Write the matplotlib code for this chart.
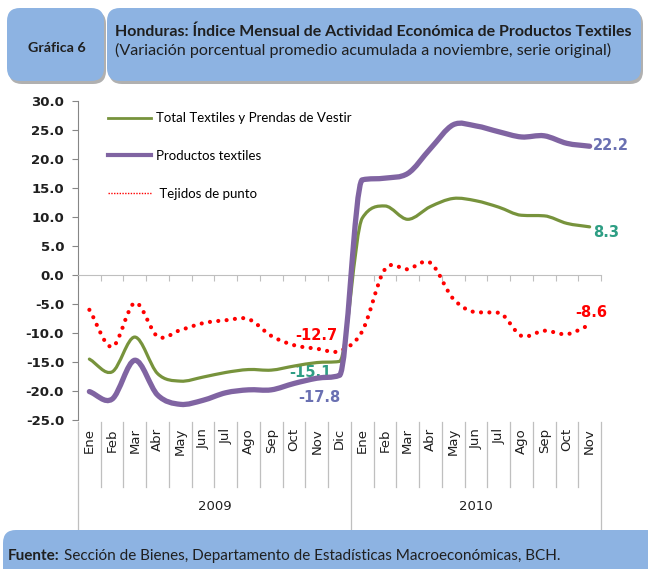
import numpy as np
import matplotlib
matplotlib.use("Agg")
import matplotlib.pyplot as plt
from matplotlib.path import Path
from matplotlib.patches import PathPatch, FancyBboxPatch
from matplotlib.lines import Line2D
import matplotlib.transforms as mtransforms

# data (Ene 2009 .. Nov 2010)
months = ["Ene", "Feb", "Mar", "Abr", "May", "Jun", "Jul", "Ago", "Sep", "Oct", "Nov", "Dic",
          "Ene", "Feb", "Mar", "Abr", "May", "Jun", "Jul", "Ago", "Sep", "Oct", "Nov"]
years = ["2009", "2010"]
total = [-14.5, -16.7, -10.7, -17.0, -18.3, -17.6, -16.8, -16.3, -16.4, -15.7, -15.1, -14.9,
         9.8, 11.9, 9.6, 11.8, 13.2, 12.8, 11.7, 10.3, 10.2, 8.9, 8.3]
productos = [-20.1, -21.4, -14.7, -20.7, -22.3, -21.6, -20.3, -19.8, -19.8, -18.7, -17.8, -17.3,
             16.4, 16.7, 17.5, 21.8, 25.9, 25.7, 24.7, 23.8, 24.0, 22.7, 22.2]
tejidos = [-6.0, -12.4, -4.8, -10.6, -9.5, -8.3, -7.8, -7.6, -10.5, -12.1, -12.7, -13.1,
           -9.7, 1.0, 1.0, 2.1, -4.1, -6.4, -6.5, -10.5, -9.6, -10.2, -8.6]

GREEN = "#77933C"
PURPLE = "#8064A2"
RED = "#FF0000"
TEAL = "#2E9E84"
BLUEL = "#6A70B2"
BOX = "#8DB3E2"
GRID = "#868686"
TXT = "#1F1F1F"


def smooth_path(xs, ys):
    # excel-like smoothed line; tangents are limited where the line keeps
    # going the same way so the big Dic->Ene jump does not overshoot
    xs = np.asarray(xs, float)
    ys = np.asarray(ys, float)
    n = len(xs)
    d = np.diff(ys) / np.diff(xs)
    m = np.zeros(n)
    m[0], m[-1] = d[0], d[-1]
    for i in range(1, n - 1):
        cr = (ys[i + 1] - ys[i - 1]) / (xs[i + 1] - xs[i - 1])
        if d[i - 1] * d[i] > 0:
            lim = 3 * min(abs(d[i - 1]), abs(d[i]))
            cr = np.sign(cr) * min(abs(cr), lim)
        m[i] = cr
    verts = [(xs[0], ys[0])]
    codes = [Path.MOVETO]
    for i in range(n - 1):
        h = xs[i + 1] - xs[i]
        verts += [(xs[i] + h / 3, ys[i] + m[i] * h / 3),
                  (xs[i + 1] - h / 3, ys[i + 1] - m[i + 1] * h / 3),
                  (xs[i + 1], ys[i + 1])]
        codes += [Path.CURVE4] * 3
    return Path(verts, codes)


W, H = 648, 569
fig = plt.figure(figsize=(W / 100, H / 100), dpi=100)
fig.patch.set_facecolor("white")


def px_box(x0, y0, x1, y1, shadow=True):
    fx0, fx1 = x0 / W, x1 / W
    fy0, fy1 = 1 - y1 / H, 1 - y0 / H
    if shadow:
        sh = FancyBboxPatch((fx0 + 2 / W, fy0 - 3 / H), fx1 - fx0, fy1 - fy0,
                            boxstyle="round,pad=0,rounding_size=0.02",
                            transform=fig.transFigure, facecolor="#B0B0B0",
                            edgecolor="none", zorder=0, mutation_aspect=W / H)
        fig.patches.append(sh)
    b = FancyBboxPatch((fx0, fy0), fx1 - fx0, fy1 - fy0,
                       boxstyle="round,pad=0,rounding_size=0.02",
                       transform=fig.transFigure, facecolor=BOX,
                       edgecolor="none", zorder=1, mutation_aspect=W / H)
    fig.patches.append(b)


# header and footer boxes
px_box(7, 8, 104, 81)
px_box(107, 8, 641, 81)
px_box(3, 530, 660, 600, shadow=False)

fig.text(57 / W, 1 - 48 / H, "Gráfica 6", fontsize=10.3, fontweight="bold",
         family="Lato", ha="center", va="center", color=TXT)
fig.text(115 / W, 1 - 32 / H,
         "Honduras: Índice Mensual de Actividad Económica de Productos Textiles",
         fontsize=11.5, fontweight="bold", family="Lato", ha="left", va="center", color=TXT)
fig.text(115 / W, 1 - 50 / H,
         "(Variación porcentual promedio acumulada a noviembre, serie original)",
         fontsize=11.6, family="Lato", ha="left", va="center", color=TXT)

f1 = fig.text(8 / W, 1 - 556 / H, "Fuente:", fontsize=11, fontweight="bold",
              family="Lato", ha="left", va="center", color=TXT)
renderer = fig.canvas.get_renderer()
bb = f1.get_window_extent(renderer)
fig.text((bb.x1 + 4) / W, 1 - 556 / H,
         "Sección de Bienes, Departamento de Estadísticas Macroeconómicas, BCH.",
         fontsize=11, family="Lato", ha="left", va="center", color=TXT)

# main axes
ax = fig.add_axes([78 / W, 1 - 420 / H, 523 / W, 319 / H])
ax.set_xlim(-0.5, len(months) - 0.5)
ax.set_ylim(-25, 30)
x = np.arange(len(months))

ax.add_patch(PathPatch(smooth_path(x, tejidos), fill=False, edgecolor=RED, lw=3.0,
                       linestyle=(0, (0.01, 2.0)), capstyle="round", zorder=3))
ax.add_patch(PathPatch(smooth_path(x, total), fill=False, edgecolor=GREEN, lw=2.3,
                       capstyle="round", zorder=4))
ax.add_patch(PathPatch(smooth_path(x, productos), fill=False, edgecolor=PURPLE, lw=3.8,
                       capstyle="round", zorder=5))

# data labels
lab_kw = dict(fontsize=10.5, fontweight="bold", family="DejaVu Sans")
ax.text(10, tejidos[10] + 0.9, f"{tejidos[10]:.1f}", color=RED, ha="center", va="bottom", **lab_kw)
ax.text(9.7, total[10] - 0.5, f"{total[10]:.1f}", color=TEAL, ha="center", va="top", **lab_kw)
ax.text(10.1, productos[10] - 2.1, f"{productos[10]:.1f}", color=BLUEL, ha="center", va="top", **lab_kw)
ax.text(22.15, productos[22] + 0.2, f"{productos[22]:.1f}", color=BLUEL, ha="left", va="center", **lab_kw)
ax.text(22.15, total[22] - 1.0, f"{total[22]:.1f}", color=TEAL, ha="left", va="center", **lab_kw)
ax.text(22.05, tejidos[22] + 0.8, f"{tejidos[22]:.1f}", color=RED, ha="center", va="bottom", **lab_kw)

# axes styling
for s in ["top", "right"]:
    ax.spines[s].set_visible(False)
ax.spines["left"].set_color(GRID)
ax.spines["bottom"].set_color("#BFBFBF")
ax.spines["bottom"].set_position(("data", 0))
yt = np.arange(-25, 31, 5)
ax.set_yticks(yt)
ax.set_yticklabels([f"{v:.1f}" for v in yt])
ax.tick_params(axis="y", direction="out", length=4, color=GRID, labelsize=9.5,
               labelcolor=TXT, pad=6)
for t in ax.get_yticklabels():
    t.set_fontweight("bold")
ax.set_xticks(np.arange(-0.5, len(months), 1.0))
ax.set_xticklabels([])
ax.tick_params(axis="x", direction="out", length=4, color="#BFBFBF")

# category labels below the plot
tr = mtransforms.blended_transform_factory(ax.transData, fig.transFigure)
for i, m in enumerate(months):
    ax.text(i, 1 - 428 / H, m, rotation=90, ha="center", va="top", fontsize=9.5,
            transform=tr, color=TXT, clip_on=False)
for b in np.arange(-0.5, len(months), 1.0):
    long = b in (-0.5, 11.5, len(months) - 0.5)
    y_end = 537 if long else 487
    ax.add_line(Line2D([b, b], [1 - 422 / H, 1 - y_end / H], transform=tr,
                       color="#BFBFBF", lw=0.9, clip_on=False))
ax.text(5.5, 1 - 507 / H, years[0], ha="center", va="center", fontsize=9.5,
        transform=tr, color=TXT)
ax.text(17.0, 1 - 507 / H, years[1], ha="center", va="center", fontsize=9.5,
        transform=tr, color=TXT)

# legend
handles = [Line2D([], [], color=GREEN, lw=2.0),
           Line2D([], [], color=PURPLE, lw=3.0),
           Line2D([], [], color=RED, lw=1.0, linestyle=(0, (1, 1)))]
labels = ["Total Textiles y Prendas de Vestir", "Productos textiles", " Tejidos de punto"]
ax.legend(handles, labels, loc="upper left", bbox_to_anchor=(0.044, 0.985),
          frameon=False, prop={"family": "Lato", "size": 9.5}, handlelength=3.3,
          handletextpad=0.38, labelspacing=1.95, borderpad=0)

fig.savefig("out.png", dpi=100)
